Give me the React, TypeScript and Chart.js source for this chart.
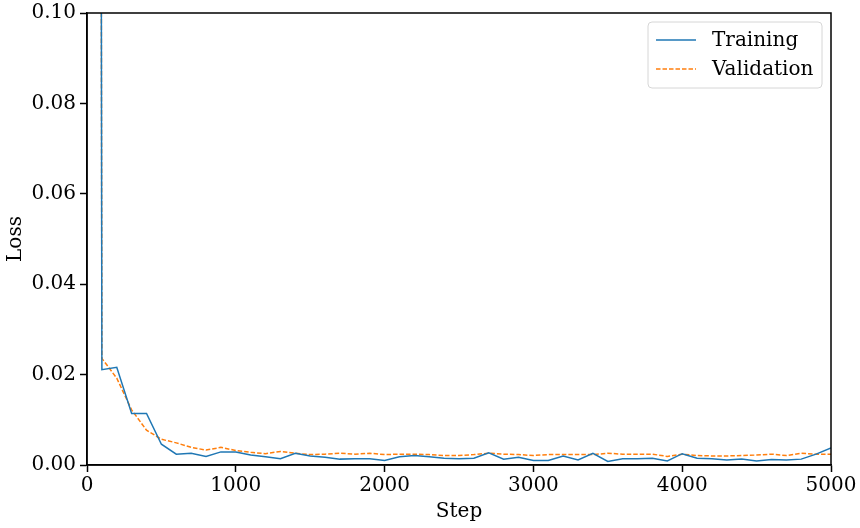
import React, { useEffect, useRef } from "react";
import { Chart, registerables } from "chart.js";

Chart.register(...registerables);

const steps = [
  0, 100, 200, 300, 400, 500, 600, 700, 800, 900,
  1000, 1100, 1200, 1300, 1400, 1500, 1600, 1700, 1800, 1900,
  2000, 2100, 2200, 2300, 2400, 2500, 2600, 2700, 2800, 2900,
  3000, 3100, 3200, 3300, 3400, 3500, 3600, 3700, 3800, 3900,
  4000, 4100, 4200, 4300, 4400, 4500, 4600, 4700, 4800, 4900, 5000,
];

const trainingLoss = [
  2.3, 0.0211, 0.0216, 0.0114, 0.0114, 0.0046, 0.0024, 0.0026, 0.0019, 0.0029,
  0.0029, 0.0022, 0.0018, 0.0014, 0.0026, 0.002, 0.0017, 0.0013, 0.0014, 0.0014,
  0.001, 0.0018, 0.0021, 0.0018, 0.0015, 0.0014, 0.0015, 0.0027, 0.0013, 0.0017,
  0.001, 0.001, 0.002, 0.0011, 0.0026, 0.0008, 0.0014, 0.0014, 0.0015, 0.0009,
  0.0025, 0.0015, 0.0014, 0.0011, 0.0013, 0.0009, 0.0012, 0.0011, 0.0013, 0.0024, 0.0038,
];

const validationLoss = [
  2.25, 0.0236, 0.0192, 0.0122, 0.0077, 0.0057, 0.0049, 0.0039, 0.0033, 0.0039,
  0.0032, 0.0028, 0.0025, 0.003, 0.0026, 0.0023, 0.0024, 0.0026, 0.0024, 0.0026,
  0.0023, 0.0024, 0.0024, 0.0023, 0.0021, 0.0021, 0.0023, 0.0026, 0.0024, 0.0023,
  0.0021, 0.0023, 0.0023, 0.0023, 0.0023, 0.0026, 0.0024, 0.0024, 0.0024, 0.0019,
  0.0024, 0.0021, 0.002, 0.002, 0.0021, 0.0022, 0.0024, 0.0021, 0.0026, 0.0024, 0.0024,
];

const seriesNames = ["Training", "Validation"];
const xTitle = "Step";
const yTitle = "Loss";

const FONT = "'DejaVu Serif', serif";
const FS = 20;
const BLUE = "#1f77b4";
const ORANGE = "#ff7f0e";
const DASH = [4.5, 2];

const framePlugin = {
  id: "frameAndLegend",
  afterDatasetsDraw(chart: any) {
    const { ctx, chartArea } = chart;
    const { left, right, top, bottom } = chartArea;
    ctx.save();
    ctx.strokeStyle = "#000";
    ctx.lineWidth = 1.5;
    ctx.strokeRect(left, top, right - left, bottom - top);

    const w = 174;
    const h = 66;
    const x0 = right - 9 - w;
    const y0 = top + 9;
    const r = 4;
    ctx.beginPath();
    ctx.moveTo(x0 + r, y0);
    ctx.lineTo(x0 + w - r, y0);
    ctx.arcTo(x0 + w, y0, x0 + w, y0 + r, r);
    ctx.lineTo(x0 + w, y0 + h - r);
    ctx.arcTo(x0 + w, y0 + h, x0 + w - r, y0 + h, r);
    ctx.lineTo(x0 + r, y0 + h);
    ctx.arcTo(x0, y0 + h, x0, y0 + h - r, r);
    ctx.lineTo(x0, y0 + r);
    ctx.arcTo(x0, y0, x0 + r, y0, r);
    ctx.closePath();
    ctx.fillStyle = "rgba(255,255,255,0.8)";
    ctx.fill();
    ctx.strokeStyle = "#d6d6d6";
    ctx.lineWidth = 1;
    ctx.stroke();

    const rows = [
      { label: seriesNames[0], color: BLUE, dash: [] as number[], y: y0 + 18 },
      { label: seriesNames[1], color: ORANGE, dash: DASH, y: y0 + 47 },
    ];
    ctx.font = `${FS}px ${FONT}`;
    ctx.textBaseline = "middle";
    ctx.textAlign = "left";
    for (const row of rows) {
      ctx.beginPath();
      ctx.setLineDash(row.dash);
      ctx.strokeStyle = row.color;
      ctx.lineWidth = 1.5;
      ctx.moveTo(x0 + 8, row.y);
      ctx.lineTo(x0 + 48, row.y);
      ctx.stroke();
      ctx.setLineDash([]);
      ctx.fillStyle = "#000";
      ctx.fillText(row.label, x0 + 64, row.y + 1);
    }
    ctx.restore();
  },
};

export default function App() {
  const ref = useRef<HTMLCanvasElement | null>(null);

  useEffect(() => {
    document.body.style.margin = "0";
    const canvas = ref.current;
    if (!canvas) return;
    const chart = new Chart(canvas, {
      type: "line",
      data: {
        datasets: [
          {
            label: seriesNames[0],
            data: steps.map((s, i) => ({ x: s, y: trainingLoss[i] })),
            borderColor: BLUE,
            backgroundColor: BLUE,
            borderWidth: 1.5,
            pointRadius: 0,
            tension: 0,
            fill: false,
          },
          {
            label: seriesNames[1],
            data: steps.map((s, i) => ({ x: s, y: validationLoss[i] })),
            borderColor: ORANGE,
            backgroundColor: ORANGE,
            borderWidth: 1.5,
            borderDash: DASH,
            pointRadius: 0,
            tension: 0,
            fill: false,
          },
        ],
      },
      options: {
        responsive: false,
        animation: false,
        layout: { padding: { left: 0, right: 29, top: 13, bottom: 0 } },
        plugins: {
          legend: { display: false },
          tooltip: { enabled: false },
        },
        scales: {
          x: {
            type: "linear",
            min: 0,
            max: 5000,
            ticks: {
              stepSize: 1000,
              color: "#000",
              font: { family: FONT, size: FS },
              padding: 2,
              maxRotation: 0,
              callback: (v: any) => String(v),
            },
            grid: {
              drawOnChartArea: false,
              drawTicks: true,
              tickLength: 7,
              tickWidth: 1.5,
              tickColor: "#000",
            },
            border: { display: true, color: "#000", width: 1.5 },
            title: {
              display: true,
              text: xTitle,
              color: "#000",
              font: { family: FONT, size: FS },
              padding: { top: 0, bottom: 4 },
            },
            afterFit: (scale: any) => {
              scale.height = 63;
              scale.paddingLeft = 0;
              scale.paddingRight = 0;
            },
          },
          y: {
            type: "linear",
            min: 0,
            max: 0.1,
            ticks: {
              stepSize: 0.02,
              color: "#000",
              font: { family: FONT, size: FS },
              padding: 4,
              callback: (v: any) => Number(v).toFixed(2),
            },
            grid: {
              drawOnChartArea: false,
              drawTicks: true,
              tickLength: 7,
              tickWidth: 1.5,
              tickColor: "#000",
            },
            border: { display: true, color: "#000", width: 1.5 },
            title: {
              display: true,
              text: yTitle,
              color: "#000",
              font: { family: FONT, size: FS },
              padding: { top: 4, bottom: 0 },
            },
            afterFit: (scale: any) => {
              scale.width = 87;
              scale.paddingTop = 0;
              scale.paddingBottom = 0;
            },
          },
        },
      },
      plugins: [framePlugin],
    });
    return () => chart.destroy();
  }, []);

  return <canvas ref={ref} width={860} height={528} style={{ display: "block" }} />;
}
